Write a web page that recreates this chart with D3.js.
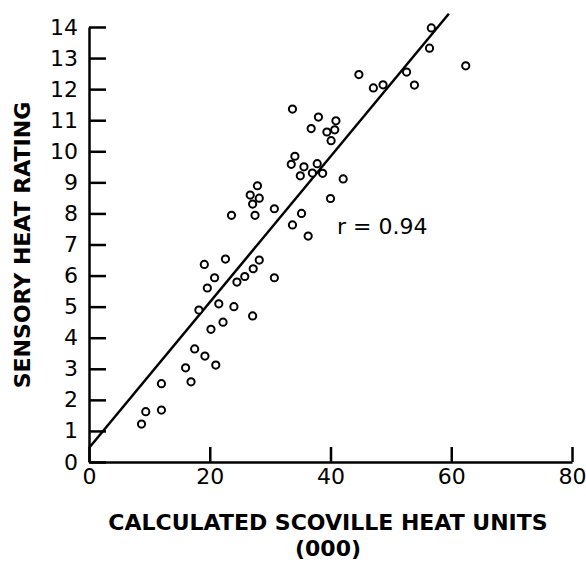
<!DOCTYPE html>
<html>
<head>
<meta charset="utf-8">
<script src="https://cdnjs.cloudflare.com/ajax/libs/d3/7.8.5/d3.min.js"></script>
<style>
  body { margin: 0; background: #fff; }
  svg text { font-family: "DejaVu Sans", Verdana, sans-serif; fill: #000; }
</style>
</head>
<body>
<svg id="chart" width="586" height="562"></svg>
<script>
/* DATA */
// scoville units (000)
var scoville = [8.7, 9.4, 12.0, 12.0, 16.0, 16.9, 17.5, 19.2, 21.0, 20.2,
  18.2, 19.6, 19.1, 20.8, 21.5, 22.6, 22.2, 24.0, 24.5, 25.8,
  27.1, 27.2, 28.2, 30.7, 23.6, 27.5, 27.1, 26.7, 27.9, 28.2,
  30.7, 33.7, 33.7, 34.1, 33.5, 35.6, 37.8, 35.0, 37.0, 38.7,
  42.1, 40.0, 35.2, 36.3, 38.0, 40.9, 36.8, 39.4, 40.7, 40.1,
  44.7, 47.1, 48.7, 52.6, 53.9, 56.7, 56.4, 62.4];
// sensory heat rating
var rating = [1.22, 1.62, 1.67, 2.52, 3.03, 2.58, 3.64, 3.41, 3.12, 4.27,
  4.89, 5.60, 6.36, 5.93, 5.09, 6.53, 4.50, 5.00, 5.79, 5.97,
  4.70, 6.22, 6.50, 5.93, 7.94, 7.94, 8.30, 8.59, 8.89, 8.49,
  8.15, 7.63, 11.36, 9.84, 9.58, 9.50, 9.60, 9.21, 9.30, 9.29,
  9.11, 8.48, 8.00, 7.27, 11.10, 10.98, 10.73, 10.62, 10.69, 10.34,
  12.47, 12.04, 12.14, 12.55, 12.13, 13.97, 13.32, 12.75];
var xTicks = [0, 20, 40, 60, 80];
var yTicks = [0, 1, 2, 3, 4, 5, 6, 7, 8, 9, 10, 11, 12, 13, 14];
// regression line y = a + b*x
var fitIntercept = 0.45;
var fitSlope = 0.2345;
var fitRange = [0, 59.6];
var rLabel = "r = 0.94";

/* SCALES */
var svg = d3.select('#chart');
var x = d3.scaleLinear().domain([0, 80]).range([89, 572]);
var y = d3.scaleLinear().domain([0, 14]).range([462, 27]);

/* AXES */
var yAxis = svg.append('g')
  .attr('transform', 'translate(' + x(0) + ',0)')
  .call(d3.axisLeft(y).tickValues(yTicks).tickSizeInner(-17).tickSizeOuter(0).tickPadding(11));
var xAxis = svg.append('g')
  .attr('transform', 'translate(0,' + y(0) + ')')
  .call(d3.axisBottom(x).tickValues(xTicks).tickSizeInner(-15).tickSizeOuter(0).tickPadding(6));

svg.selectAll('.domain, .tick line')
  .attr('stroke', '#000')
  .attr('stroke-width', 2.5);
svg.selectAll('.tick text')
  .attr('font-size', 22)
  .attr('font-family', '"DejaVu Sans", Verdana, sans-serif')
  .attr('fill', '#000');

/* FIT LINE */
svg.append('line')
  .attr('x1', x(fitRange[0]))
  .attr('y1', y(fitIntercept + fitSlope * fitRange[0]))
  .attr('x2', x(fitRange[1]))
  .attr('y2', y(fitIntercept + fitSlope * fitRange[1]))
  .attr('stroke', '#000')
  .attr('stroke-width', 2.5);

/* POINTS */
svg.append('g').selectAll('circle')
  .data(d3.zip(scoville, rating))
  .join('circle')
  .attr('cx', function(d){ return x(d[0]); })
  .attr('cy', function(d){ return y(d[1]); })
  .attr('r', 3.6)
  .attr('fill', '#fff')
  .attr('stroke', '#000')
  .attr('stroke-width', 2);

/* LABELS */
svg.append('text')
  .attr('x', 337).attr('y', 234)
  .attr('font-size', 22)
  .text(rLabel);

svg.append('text')
  .attr('transform', 'translate(30,245) rotate(-90)')
  .attr('text-anchor', 'middle')
  .attr('font-size', 22)
  .attr('font-weight', 'bold')
  .text('SENSORY HEAT RATING');

svg.append('text')
  .attr('x', 328).attr('y', 530)
  .attr('text-anchor', 'middle')
  .attr('font-size', 22)
  .attr('font-weight', 'bold')
  .text('CALCULATED SCOVILLE HEAT UNITS');
svg.append('text')
  .attr('x', 328).attr('y', 556)
  .attr('text-anchor', 'middle')
  .attr('font-size', 22)
  .attr('font-weight', 'bold')
  .text('(000)');
</script>
</body>
</html>
